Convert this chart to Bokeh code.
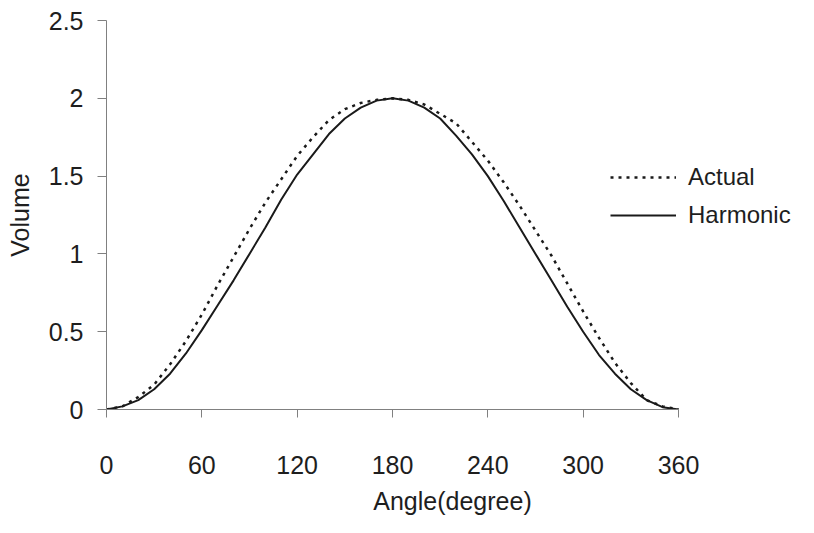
from bokeh.plotting import figure
from bokeh.models import FixedTicker, Legend, LegendItem, Range1d
from bokeh.embed import file_html
from bokeh.resources import INLINE

# ---- data ----
angle = [0, 10, 20, 30, 40, 50, 60, 70, 80, 90, 100, 110, 120, 130, 140, 150, 160, 170, 180,
         190, 200, 210, 220, 230, 240, 250, 260, 270, 280, 290, 300, 310, 320, 330, 340, 350, 360]
actual = [0, 0.02, 0.08, 0.16, 0.29, 0.44, 0.61, 0.80, 0.98, 1.16, 1.33, 1.48, 1.63, 1.75, 1.86,
          1.93, 1.97, 1.99, 2.00, 1.99, 1.96, 1.90, 1.84, 1.72, 1.60, 1.46, 1.31, 1.15, 0.99,
          0.81, 0.63, 0.46, 0.30, 0.17, 0.06, 0.02, 0]
harmonic = [0, 0.02, 0.06, 0.13, 0.23, 0.36, 0.51, 0.67, 0.83, 1.00, 1.17, 1.35, 1.51, 1.64, 1.77,
            1.87, 1.94, 1.985, 2.00, 1.985, 1.94, 1.87, 1.76, 1.64, 1.50, 1.34, 1.17, 1.00, 0.83,
            0.66, 0.50, 0.35, 0.23, 0.13, 0.06, 0.015, 0]
x_ticks = [0, 60, 120, 180, 240, 300, 360]
y_ticks = [0, 0.5, 1, 1.5, 2, 2.5]
y_tick_labels = ["0", "0.5", "1", "1.5", "2", "2.5"]
series_names = ["Actual", "Harmonic"]

FONT = "Liberation Sans"
FS = "25px"
TXT = "#1e1e1e"
AX = "#808080"

W, H = 798, 517
LEFT, TOP, BOTTOM_Y = 106, 20, 409
x_end = (W - LEFT) / ((678 - 106) / 360.0)
p = figure(width=W, height=H, output_backend="svg", toolbar_location=None,
           x_range=Range1d(0, x_end), y_range=Range1d(0, 2.5),
           min_border_left=LEFT, min_border_right=0, min_border_top=TOP,
           min_border_bottom=H - BOTTOM_Y)
p.outline_line_color = None
p.grid.visible = False
p.background_fill_color = "white"
p.border_fill_color = "white"

r1 = p.line(angle, actual, line_color="#1a1a1a", line_width=2.5, line_dash="3 5")
r2 = p.line(angle, harmonic, line_color="#1a1a1a", line_width=2)

xa = p.xaxis[0]
xa.bounds = (0, 360)
xa.ticker = FixedTicker(ticks=x_ticks)
xa.minor_tick_line_color = None
xa.major_tick_in = 0
xa.major_tick_out = 8
xa.major_label_standoff = 38
xa.axis_label = "Angle(degree)"
xa.axis_label_standoff = 10

ya = p.yaxis[0]
ya.ticker = FixedTicker(ticks=y_ticks)
ya.major_label_overrides = {t: l for t, l in zip(y_ticks, y_tick_labels)}
ya.minor_tick_line_color = None
ya.major_tick_in = 0
ya.major_tick_out = 9
ya.major_label_standoff = 14
ya.axis_label = "Volume"
ya.axis_label_standoff = 12

for ax in (xa, ya):
    ax.axis_line_color = AX
    ax.major_tick_line_color = AX
    ax.major_label_text_font = FONT
    ax.major_label_text_font_size = FS
    ax.major_label_text_color = TXT
    ax.axis_label_text_font = FONT
    ax.axis_label_text_font_size = FS
    ax.axis_label_text_font_style = "normal"
    ax.axis_label_text_color = TXT

legend = Legend(items=[LegendItem(label=series_names[0], renderers=[r1]),
                       LegendItem(label=series_names[1], renderers=[r2])],
                location=(504, 180), orientation="vertical",
                glyph_width=66, glyph_height=20, label_height=20, label_width=20,
                spacing=10, padding=0, margin=0, label_standoff=12,
                border_line_color=None, background_fill_alpha=0,
                label_text_font=FONT, label_text_font_size="24px", label_text_color=TXT)
p.add_layout(legend, "center")

open("out.html", "w").write(file_html(p, INLINE))
